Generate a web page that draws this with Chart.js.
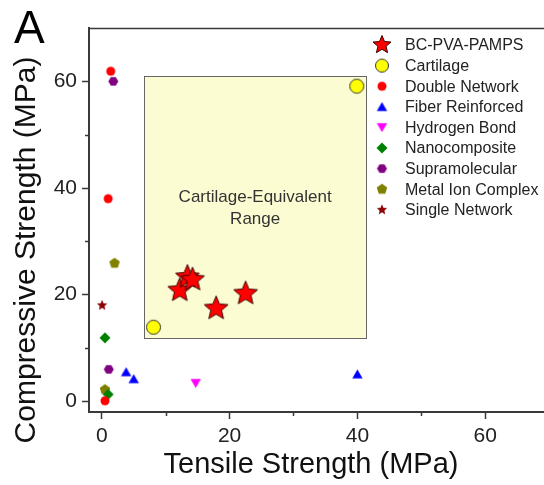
<!DOCTYPE html>
<html>
<head>
<meta charset="utf-8">
<title>Tensile vs compressive strength</title>
<script src="https://cdn.jsdelivr.net/npm/chart.js@4.4.0/dist/chart.umd.min.js"></script>
<style>
  html, body { margin: 0; padding: 0; background: #fff; }
  #wrap { width: 544px; height: 485px; }
</style>
</head>
<body>
<div id="wrap"><canvas id="strengthChart" width="544" height="485"></canvas></div>
<script>
/* ==========================================
   Tensile vs compressive strength of hydrogels
   ========================================== */

// --- datos (MPa) ---
const seriesNames = ['BC-PVA-PAMPS', 'Cartilage', 'Double Network', 'Fiber Reinforced',
    'Hydrogen Bond', 'Nanocomposite', 'Supramolecular', 'Metal Ion Complex', 'Single Network'];

const bcTensile = [12.2, 13.4, 14.2, 17.9, 22.5];
const bcCompressive = [20.8, 23.3, 22.8, 17.4, 20.2];
const cartilageTensile = [8.1, 39.9];
const cartilageCompressive = [13.9, 59.1];
const doubleNetTensile = [1.4, 1.0, 0.5];
const doubleNetCompressive = [61.9, 38.0, 0.1];
const fiberTensile = [3.8, 5.0, 40.0];
const fiberCompressive = [5.5, 4.2, 5.1];
const hbondTensile = [14.7];
const hbondCompressive = [3.4];
const nanoTensile = [0.5, 1.0];
const nanoCompressive = [11.9, 1.3];
const supraTensile = [1.8, 1.1];
const supraCompressive = [60.0, 6.0];
const metalTensile = [2.0, 0.5];
const metalCompressive = [25.9, 2.2];
const singleTensile = [0.05];
const singleCompressive = [18.0];

// cartilage-equivalent range box
const rangeTensile = [6.6, 41.4];
const rangeCompressive = [11.8, 61.0];
const rangeLabel = ['Cartilage-Equivalent', 'Range'];

const xTickValues = [0, 10, 20, 30, 40, 50, 60];
const yTickValues = [0, 10, 20, 30, 40, 50, 60];
const tickLabels = [0, 20, 40, 60];

const FONT = '"Liberation Sans", Arial, sans-serif';
const axisColor = '#3a3a3a';

function toPoints(xs, ys) {
    return xs.map((x, i) => ({ x: x, y: ys[i] }));
}

// marcadores dibujados en un canvas pequeño
function makeMarker(shape, size, fill, stroke) {
    const c = document.createElement('canvas');
    c.width = c.height = Math.ceil(size + 3);
    const g = c.getContext('2d');
    const cx = c.width / 2, cy = c.height / 2, r = size / 2;
    g.beginPath();
    if (shape === 'circle') {
        g.arc(cx, cy, r, 0, Math.PI * 2);
    } else {
        let pts = [];
        if (shape === 'star') {
            for (let i = 0; i < 10; i++) {
                const a = -Math.PI / 2 + i * Math.PI / 5;
                const rr = i % 2 ? r * 0.45 : r;
                pts.push([cx + rr * Math.cos(a), cy + rr * Math.sin(a)]);
            }
        } else {
            const sides = { triangle: 3, downTriangle: 3, diamond: 4, pentagon: 5, hexagon: 6 }[shape];
            const start = shape === 'downTriangle' ? Math.PI / 2 : (shape === 'hexagon' ? 0 : -Math.PI / 2);
            const off = (shape === 'triangle') ? r * 0.2 : (shape === 'downTriangle' ? -r * 0.2 : 0);
            for (let i = 0; i < sides; i++) {
                const a = start + i * 2 * Math.PI / sides;
                pts.push([cx + r * Math.cos(a), cy + off + r * Math.sin(a)]);
            }
        }
        pts.forEach((p, i) => i ? g.lineTo(p[0], p[1]) : g.moveTo(p[0], p[1]));
        g.closePath();
    }
    g.fillStyle = fill;
    g.fill();
    if (stroke) {
        g.lineWidth = 1;
        g.strokeStyle = stroke;
        g.stroke();
    }
    return c;
}

const markers = [
    makeMarker('star', 25, '#ff0000', '#3a0000'),
    makeMarker('circle', 14, '#ffff00', '#333333'),
    makeMarker('circle', 9, '#ff0000'),
    makeMarker('triangle', 12, '#0000ff'),
    makeMarker('downTriangle', 12, '#ff00ff'),
    makeMarker('diamond', 11, '#008000'),
    makeMarker('hexagon', 10, '#800080'),
    makeMarker('pentagon', 11, '#808000'),
    makeMarker('star', 11, '#8b0000')
];
const legendMarkers = markers.slice();
legendMarkers[0] = makeMarker('star', 19, '#ff0000', '#3a0000');
legendMarkers[1] = makeMarker('circle', 13, '#ffff00', '#333333');

const seriesPoints = [
    toPoints(bcTensile, bcCompressive),
    toPoints(cartilageTensile, cartilageCompressive),
    toPoints(doubleNetTensile, doubleNetCompressive),
    toPoints(fiberTensile, fiberCompressive),
    toPoints(hbondTensile, hbondCompressive),
    toPoints(nanoTensile, nanoCompressive),
    toPoints(supraTensile, supraCompressive),
    toPoints(metalTensile, metalCompressive),
    toPoints(singleTensile, singleCompressive)
];

// --- decoraciones: caja, leyenda, títulos ---
const decorPlugin = {
    id: 'decor',
    beforeDatasetsDraw(chart) {
        const { ctx, scales: { x, y } } = chart;
        const x0 = x.getPixelForValue(rangeTensile[0]), x1 = x.getPixelForValue(rangeTensile[1]);
        const y0 = y.getPixelForValue(rangeCompressive[1]), y1 = y.getPixelForValue(rangeCompressive[0]);
        ctx.save();
        ctx.fillStyle = '#fcfcd2';
        ctx.fillRect(x0, y0, x1 - x0, y1 - y0);
        ctx.strokeStyle = '#666';
        ctx.lineWidth = 1;
        ctx.strokeRect(Math.round(x0) + 0.5, Math.round(y0) + 0.5, Math.round(x1 - x0), Math.round(y1 - y0));
        ctx.fillStyle = '#333';
        ctx.font = '17px ' + FONT;
        ctx.textAlign = 'center';
        ctx.textBaseline = 'middle';
        const cx = (x0 + x1) / 2;
        ctx.fillText(rangeLabel[0], cx, 197);
        ctx.fillText(rangeLabel[1], cx, 219);
        ctx.restore();
    },
    afterDraw(chart) {
        const { ctx, chartArea, scales: { x, y } } = chart;
        ctx.save();
        // marco superior
        ctx.strokeStyle = axisColor;
        ctx.lineWidth = 1.5;
        ctx.beginPath();
        ctx.moveTo(chartArea.left, chartArea.top + 0.5);
        ctx.lineTo(chartArea.right, chartArea.top + 0.5);
        ctx.stroke();
        // ticks menores
        ctx.lineWidth = 1.5;
        ctx.beginPath();
        xTickValues.filter(v => !tickLabels.includes(v)).forEach(v => {
            const px = Math.round(x.getPixelForValue(v)) + 0.5;
            ctx.moveTo(px, chartArea.bottom);
            ctx.lineTo(px, chartArea.bottom + 4);
        });
        yTickValues.filter(v => !tickLabels.includes(v)).forEach(v => {
            const py = Math.round(y.getPixelForValue(v)) + 0.5;
            ctx.moveTo(chartArea.left, py);
            ctx.lineTo(chartArea.left - 4, py);
        });
        ctx.stroke();

        // leyenda
        ctx.font = '16px ' + FONT;
        ctx.fillStyle = '#222';
        ctx.textAlign = 'left';
        ctx.textBaseline = 'middle';
        seriesNames.forEach((name, i) => {
            const ly = 45 + i * 20.6;
            const m = legendMarkers[i];
            ctx.drawImage(m, 382 - m.width / 2, ly - m.height / 2);
            ctx.fillText(name, 405, ly + 1);
        });

        // títulos de ejes
        ctx.fillStyle = '#111';
        ctx.textAlign = 'center';
        ctx.font = '29px ' + FONT;
        ctx.fillText('Tensile Strength (MPa)', 311, 465);
        ctx.save();
        ctx.translate(27, 250);
        ctx.rotate(-Math.PI / 2);
        ctx.font = '30px ' + FONT;
        ctx.fillText('Compressive Strength (MPa)', 0, 0);
        ctx.restore();

        // letra del panel
        ctx.textAlign = 'left';
        ctx.textBaseline = 'alphabetic';
        ctx.font = '46px ' + FONT;
        ctx.fillStyle = '#000';
        ctx.fillText('A', 14, 43);
        ctx.restore();
    }
};

document.addEventListener('DOMContentLoaded', () => {
    const canvas = document.getElementById('strengthChart');

    new Chart(canvas, {
        type: 'scatter',
        data: {
            datasets: seriesNames.map((name, i) => ({
                label: name,
                data: seriesPoints[i],
                pointStyle: markers[i],
                pointRadius: 6,
                pointHoverRadius: 6,
                order: i
            }))
        },
        options: {
            responsive: false,
            animation: false,
            events: [],
            layout: { padding: { top: 28, right: 0, left: 0, bottom: 0 }, autoPadding: false },
            plugins: {
                legend: { display: false },
                tooltip: { enabled: false }
            },
            scales: {
                x: {
                    type: 'linear',
                    min: -2,
                    max: 69.2,
                    afterBuildTicks: s => { s.ticks = xTickValues.map(v => ({ value: v })); },
                    afterFit: s => { s.height = 73; s.paddingLeft = 0; s.paddingRight = 0; },
                    border: { display: true, color: axisColor, width: 2 },
                    grid: {
                        drawOnChartArea: false,
                        tickLength: 7,
                        tickWidth: 1.5,
                        tickColor: c => tickLabels.includes(c.tick.value) ? axisColor : 'rgba(0,0,0,0)'
                    },
                    ticks: {
                        autoSkip: false,
                        maxRotation: 0,
                        padding: 5,
                        color: '#222',
                        font: { family: FONT, size: 21 },
                        callback: v => tickLabels.includes(v) ? String(v) : ''
                    }
                },
                y: {
                    type: 'linear',
                    min: -2,
                    max: 70,
                    afterBuildTicks: s => { s.ticks = yTickValues.map(v => ({ value: v })); },
                    afterFit: s => { s.width = 89; s.paddingTop = 0; s.paddingBottom = 0; },
                    border: { display: true, color: axisColor, width: 2 },
                    grid: {
                        drawOnChartArea: false,
                        tickLength: 7,
                        tickWidth: 1.5,
                        tickColor: c => tickLabels.includes(c.tick.value) ? axisColor : 'rgba(0,0,0,0)'
                    },
                    ticks: {
                        autoSkip: false,
                        padding: 5,
                        color: '#222',
                        font: { family: FONT, size: 21 },
                        callback: v => tickLabels.includes(v) ? String(v) : ''
                    }
                }
            }
        },
        plugins: [decorPlugin]
    });
});
</script>
</body>
</html>
